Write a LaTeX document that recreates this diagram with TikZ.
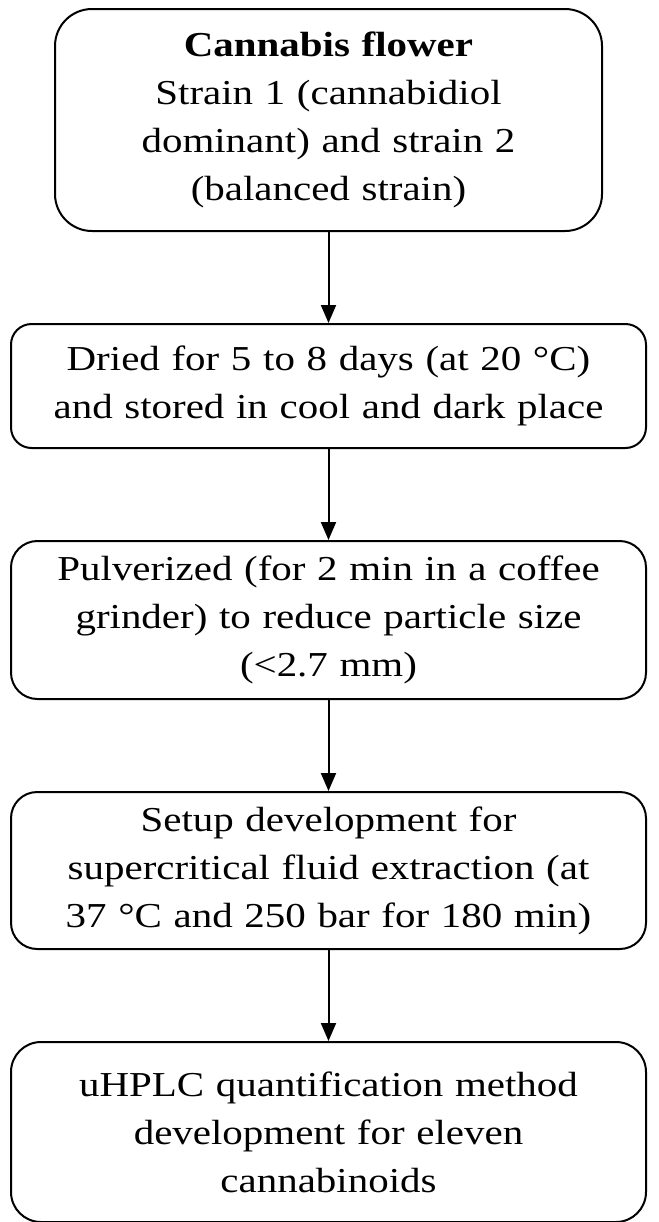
\documentclass[tikz,border=0pt]{standalone}
\usepackage{fontspec}
\setmainfont[FakeStretch=1.17]{Liberation Serif}
\usepackage{tikz}
\usetikzlibrary{positioning,arrows.meta}
\tikzset{
    step-box/.style = {draw=black, fill=white, line width=1pt, rectangle, inner sep=0pt, align=center, text width=317.5pt, font=\fontsize{17.5pt}{24pt}\selectfont},
    flow-arrow/.style = {draw=black, line width=1pt, -{Triangle[length=9pt,width=7.5pt]}},
}

\begin{document}
\begin{tikzpicture}
\useasboundingbox (0,0) rectangle (329.5pt,-611pt);
\node[step-box, anchor=north, text width=273.5pt, minimum height=111pt, rounded corners=18.5pt] (flower) at (164.25pt,-4pt)
    {\textbf{Cannabis flower}\\Strain 1 (cannabidiol\\dominant) and strain 2\\(balanced strain)};
\node[step-box, below=45.5pt of flower, minimum height=62pt, rounded corners=10.3pt] (drying)
    {Dried for 5 to 8 days (at 20 °C)\\and stored in cool and dark place};
\node[step-box, below=45.5pt of drying, minimum height=79pt, rounded corners=13.2pt] (grinding)
    {Pulverized (for 2 min in a coffee\\grinder) to reduce particle size\\(<2.7 mm)};
\node[step-box, below=45.5pt of grinding, minimum height=78.5pt, rounded corners=13.1pt] (extraction)
    {Setup development for\\supercritical fluid extraction (at\\37 °C and 250 bar for 180 min)};
\node[step-box, below=45.5pt of extraction, minimum height=90pt, rounded corners=15pt] (quantification)
    {uHPLC quantification method\\development for eleven\\cannabinoids};
% arrows between the steps
\draw[flow-arrow] (flower) -- (drying);
\draw[flow-arrow] (drying) -- (grinding);
\draw[flow-arrow] (grinding) -- (extraction);
\draw[flow-arrow] (extraction) -- (quantification);
\end{tikzpicture}
\end{document}
